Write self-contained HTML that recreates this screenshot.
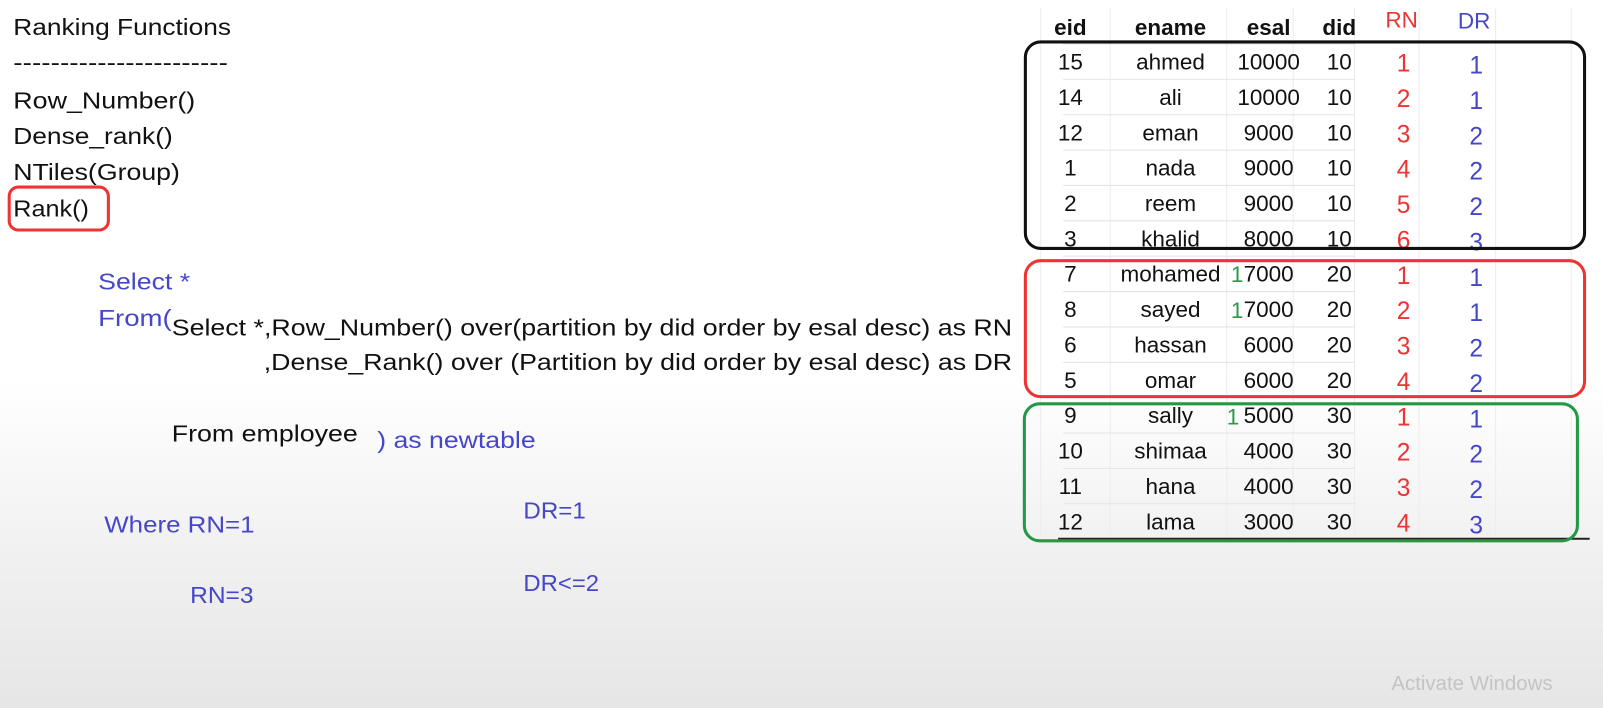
<!DOCTYPE html>
<html><head><meta charset="utf-8"><style>
html,body{margin:0;padding:0}
body{width:1603px;height:708px;overflow:hidden;background:linear-gradient(#fff 0,#fff 380px,#f0f0f0 560px,#e6e6e6 708px);font-family:"Liberation Sans",sans-serif}
svg{position:absolute;left:0;top:0}
</style></head><body>
<svg width="1603" height="708" font-family="Liberation Sans, sans-serif">
<g transform="scale(1.0223)">
<g font-size="23" fill="#111">
<text x="13" y="34" textLength="213" lengthAdjust="spacingAndGlyphs">Ranking Functions</text>
<text x="13" y="69" textLength="210" lengthAdjust="spacingAndGlyphs">-----------------------</text>
<text x="13" y="106" textLength="178" lengthAdjust="spacingAndGlyphs">Row_Number()</text>
<text x="13" y="141" textLength="156" lengthAdjust="spacingAndGlyphs">Dense_rank()</text>
<text x="13" y="176" textLength="163" lengthAdjust="spacingAndGlyphs">NTiles(Group)</text>
<text x="13" y="212" textLength="74" lengthAdjust="spacingAndGlyphs">Rank()</text>
<rect x="9" y="183" width="97" height="42" rx="9" fill="none" stroke="#e33" stroke-width="3"/>
<text x="168" y="328" textLength="822" lengthAdjust="spacingAndGlyphs">Select *,Row_Number() over(partition by did order by esal desc) as RN</text>
<text x="258" y="362" textLength="732" lengthAdjust="spacingAndGlyphs">,Dense_Rank()   over (Partition by did order by esal desc) as DR</text>
<text x="168" y="432" textLength="182" lengthAdjust="spacingAndGlyphs">From employee</text>
</g>
<g fill="#4646c8" font-size="23">
<text x="96" y="283" textLength="90" lengthAdjust="spacingAndGlyphs">Select *</text>
<text x="96" y="319" textLength="72" lengthAdjust="spacingAndGlyphs">From(</text>
<text x="369" y="438" textLength="155" lengthAdjust="spacingAndGlyphs">) as newtable</text>
<text x="102" y="521" textLength="147" lengthAdjust="spacingAndGlyphs">Where RN=1</text>
<text x="512" y="507" textLength="61" lengthAdjust="spacingAndGlyphs">DR=1</text>
<text x="186" y="590" textLength="62" lengthAdjust="spacingAndGlyphs">RN=3</text>
<text x="512" y="578" textLength="74" lengthAdjust="spacingAndGlyphs">DR&lt;=2</text>
</g>
<g id="tbl"></g>
<g fill="#2a9a4a" font-size="22">
<text x="1204" y="276">1</text>
<text x="1204" y="311">1</text>
<text x="1200" y="415">1</text>
</g>
<text x="1361" y="675" font-size="20" fill="#c4c4c4">Activate Windows</text>
</g>
</svg>
<script>
const eids=[15,14,12,1,2,3,7,8,6,5,9,10,11,12];
const names=["ahmed","ali","eman","nada","reem","khalid","mohamed","sayed","hassan","omar","sally","shimaa","hana","lama"];
const sals=[10000,10000,9000,9000,9000,8000,7000,7000,6000,6000,5000,4000,4000,3000];
const dids=[10,10,10,10,10,10,20,20,20,20,30,30,30,30];
const rns=[1,2,3,4,5,6,1,2,3,4,1,2,3,4];
const drs=[1,1,2,2,2,3,1,1,2,2,1,2,2,3];
const NS="http://www.w3.org/2000/svg";
const g=document.getElementById('tbl');
const y0=60,rh=34.6;
const rowY=i=>y0+i*rh;
function t(x,y,s,fill,size,name,bold){const e=document.createElementNS(NS,'text');e.setAttribute('x',x);e.setAttribute('y',y);e.setAttribute('text-anchor','middle');e.setAttribute('fill',fill);e.setAttribute('font-size',size);if(bold)e.setAttribute('font-weight','bold');e.textContent=s;


g.appendChild(e);return e;}
function ln(x1,y1,x2,y2,c,w){const e=document.createElementNS(NS,'line');e.setAttribute('x1',x1);e.setAttribute('y1',y1);e.setAttribute('x2',x2);e.setAttribute('y2',y2);e.setAttribute('stroke',c);e.setAttribute('stroke-width',w);


g.appendChild(e);}
[1018,1086,1200,1265,1325,1388,1463,1537].forEach(x=>ln(x,8,x,525,'#ececec',1));
for(let i=0;i<=eids.length;i++)ln(1040,rowY(i)-17,1325,rowY(i)-17,'#e4e4e4',1);
ln(1035,527,1555,527,'#222',2);
const cx=[1047,1145,1241,1310];
["eid","ename","esal","did"].forEach((h,k)=>t(cx[k],34,h,'#111',22,'header-'+h,true));
t(1371,27,'RN','#e33',22,'header-rn');
t(1442,28,'DR','#4646c8',22,'header-dr');
eids.forEach((v,i)=>{const y=rowY(i)+8;
t(cx[0],y,v,'#111',22,'cell-eid');
t(cx[1],y,names[i],'#111',22,'cell-ename');
t(cx[2],y,sals[i],'#111',22,'cell-esal');
t(cx[3],y,dids[i],'#111',22,'cell-did');
t(1373,y+2,rns[i],'#e33',24,'cell-rn');
t(1444,y+4,drs[i],'#4646c8',24,'cell-dr');});
function box(x,y,w,h,c,name){const e=document.createElementNS(NS,'rect');e.setAttribute('x',x);e.setAttribute('y',y);e.setAttribute('width',w);e.setAttribute('height',h);e.setAttribute('rx',15);e.setAttribute('fill','none');e.setAttribute('stroke',c);e.setAttribute('stroke-width',3);


g.appendChild(e);}
box(1003,41,547,202,'#111','group-10-box');
box(1003,255,547,133,'#e33','group-20-box');
box(1002,395,541,134,'#229944','group-30-box');
</script>
</body></html>
